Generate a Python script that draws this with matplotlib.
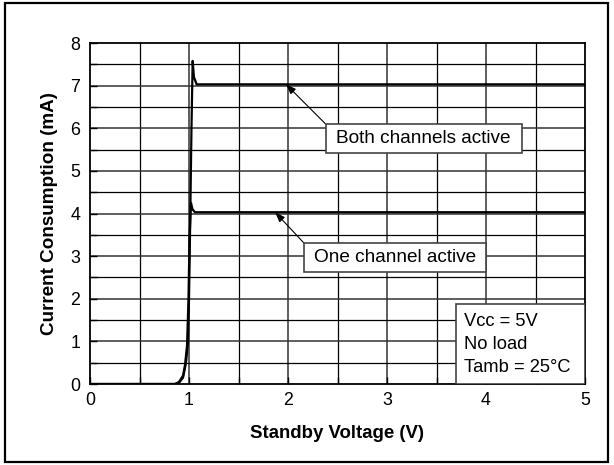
import numpy as np
import matplotlib
matplotlib.use("Agg")
import matplotlib.pyplot as plt
from matplotlib.patches import Rectangle

plt.rcParams['font.family'] = ['Liberation Sans', 'DejaVu Sans']

# Standby voltage (V) vs current consumption (mA)
both_v = [0.0, 0.5, 0.86, 0.90, 0.94, 0.97, 0.99, 1.00, 1.01, 1.025, 1.037, 1.05, 1.077, 2.0, 3.0, 4.0, 5.0]
both_i = [0.0, 0.0, 0.0, 0.03, 0.15, 0.50, 1.00, 2.00, 3.50, 6.00, 7.58, 7.20, 7.03, 7.03, 7.03, 7.03, 7.03]

one_v = [0.0, 0.5, 0.86, 0.90, 0.94, 0.96, 0.98, 0.995, 1.005, 1.02, 1.035, 1.06, 2.0, 3.0, 4.0, 5.0]
one_i = [0.0, 0.0, 0.0, 0.05, 0.20, 0.45, 0.90, 2.00, 3.40, 4.25, 4.10, 4.03, 4.03, 4.03, 4.03, 4.03]

conditions = ["Vcc = 5V", "No load", "Tamb = 25°C"]

fig = plt.figure(figsize=(6.14, 4.65), dpi=100)
ax = fig.add_axes([90 / 614, 1 - 384 / 465, 495 / 614, 341 / 465])

# outer frame around the whole figure
fig.patches.append(Rectangle((5 / 614, 3 / 465), 603 / 614, 459 / 465,
                             transform=fig.transFigure, fill=False,
                             ec='black', lw=1.6))

ax.set_xlim(0, 5)
ax.set_ylim(0, 8)
ax.set_xticks(np.arange(0, 5.01, 1))
ax.set_yticks(np.arange(0, 8.01, 1))
ax.set_xticks(np.arange(0, 5.01, 0.5), minor=True)
ax.set_yticks(np.arange(0, 8.01, 0.5), minor=True)
ax.tick_params(which='both', direction='in', length=5, width=1, labelsize=12.8)
ax.tick_params(axis='x', pad=6)
ax.tick_params(axis='y', pad=7)

for v in np.arange(0.5, 5.0, 0.5):
    ax.axvline(v, color='#333333' if v % 1 == 0 else 'black', lw=1.1 if v % 1 == 0 else 0.9, zorder=1)
for v in np.arange(0.5, 8.0, 0.5):
    ax.axhline(v, color='#333333' if v % 1 == 0 else 'black', lw=1.1 if v % 1 == 0 else 0.9, zorder=1)

for s in ax.spines.values():
    s.set_linewidth(1.3)

ax.plot(both_v, both_i, color='black', lw=1.6, zorder=3)
ax.plot(one_v, one_i, color='black', lw=1.6, zorder=3)

ax.set_xlabel("Standby Voltage (V)", fontsize=13.4, fontweight='bold', labelpad=11)
ax.set_ylabel("Current Consumption (mA)", fontsize=13.6, fontweight='bold', labelpad=9)

arrow = dict(arrowstyle='-|>,head_length=0.6,head_width=0.22', color='black', lw=0.8,
             shrinkA=0, shrinkB=0)
ax.annotate('', xy=(1.98, 7.03), xytext=(2.38, 6.1), arrowprops=arrow, zorder=4)
ax.annotate('', xy=(1.87, 4.03), xytext=(2.16, 3.31), arrowprops=arrow, zorder=4)

# label boxes
ax.add_patch(Rectangle((2.38, 5.42), 1.98, 0.68, fc='white', ec='#444444', lw=1.2, zorder=5))
ax.text(3.37, 5.76, "Both channels active", ha='center', va='center', fontsize=13.7, zorder=6)
ax.add_patch(Rectangle((2.16, 2.63), 1.84, 0.68, fc='white', ec='#444444', lw=1.2, zorder=5))
ax.text(3.08, 2.97, "One channel active", ha='center', va='center', fontsize=13.7, zorder=6)

# test conditions box in the lower right corner
ax.add_patch(Rectangle((3.7, 0), 1.3, 1.87, fc='white', ec='#444444', lw=1.2, zorder=5))
for k, line in enumerate(conditions):
    ax.text(3.78, 1.47 - 0.54 * k, line, ha='left', va='center', fontsize=13.2, zorder=6)

fig.savefig("out.png", dpi=100)
